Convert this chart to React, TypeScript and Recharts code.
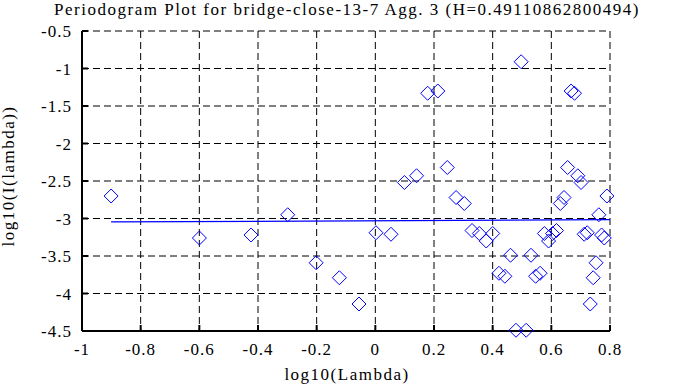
import React from 'react';
import { ScatterChart, Scatter, XAxis, YAxis, CartesianGrid } from 'recharts';

const lambdaLog = [
  -0.9008, -0.5998, -0.4237, -0.2987, -0.2018, -0.1226, -0.0557, 0.0023, 0.0534, 0.0992,
  0.1406, 0.1784, 0.2131, 0.2453, 0.2753, 0.3033, 0.3296, 0.3545, 0.378, 0.4002,
  0.4214, 0.4416, 0.4609, 0.4794, 0.4971, 0.5142, 0.5306, 0.5464, 0.5616, 0.5763,
  0.5906, 0.6043, 0.6177, 0.6307, 0.6433, 0.6555, 0.6674, 0.679, 0.6903, 0.7013,
  0.712, 0.7224, 0.7327, 0.7427, 0.7524, 0.762, 0.7713, 0.7804, 0.7894,
];

const periodogramLog = [
  -2.7, -3.26, -3.22, -2.95, -3.59, -3.79, -4.14, -3.19, -3.21, -2.52,
  -2.43, -1.33, -1.3, -2.32, -2.72, -2.8, -3.16, -3.2, -3.3, -3.2,
  -3.73, -3.77, -3.49, -4.49, -0.91, -4.49, -3.49, -3.77, -3.73, -3.2,
  -3.3, -3.2, -3.16, -2.8, -2.72, -2.32, -1.3, -1.33, -2.43, -2.52,
  -3.21, -3.19, -4.14, -3.79, -3.59, -2.95, -3.22, -3.26, -2.7,
];

const fitX = [-0.9008, 0.8];
const fitY = [-3.046, -3.016];

const xTicks = [-1, -0.8, -0.6, -0.4, -0.2, 0, 0.2, 0.4, 0.6, 0.8];
const yTicks = [-4.5, -4, -3.5, -3, -2.5, -2, -1.5, -1, -0.5];

const titleText = 'Periodogram Plot for bridge-close-13-7 Agg. 3 (H=0.49110862800494)';
const xLabel = 'log10(Lambda)';
const yLabel = 'log10(I(lambda))';

const points = lambdaLog.map((x, i) => ({ x, y: periodogramLog[i] }));
const fitLine = fitX.map((x, i) => ({ x, y: fitY[i] }));

const FONT = '"Liberation Serif", "Times New Roman", Times, serif';
const BLUE = '#0000ff';

const Diamond = (props: any) => {
  const { cx, cy } = props;
  if (cx == null || cy == null) return <g />;
  const r = 7;
  return (
    <path
      d={`M${cx},${cy - r}L${cx + r},${cy}L${cx},${cy + r}L${cx - r},${cy}Z`}
      fill="none"
      stroke={BLUE}
      strokeWidth={1}
    />
  );
};

const NoShape = () => <g />;
const NoTick = () => <g />;

const tickStyle = { fill: '#000', fontSize: 17, fontFamily: FONT, letterSpacing: 1 };
const lineStyle = { stroke: '#000', strokeWidth: 2 };

export default function App() {
  return (
    <div style={{ position: 'absolute', left: 0, top: 0, width: 683, height: 387, background: '#fff' }}>
      <ScatterChart width={683} height={387} margin={{ top: 31, right: 73, bottom: 16, left: 0 }}>
        <CartesianGrid stroke="#000" strokeWidth={1} strokeDasharray="7 4" />
        <XAxis
          xAxisId={0}
          type="number"
          dataKey="x"
          domain={[-1, 0.8]}
          ticks={xTicks}
          interval={0}
          height={40}
          tickSize={-6}
          tickMargin={18}
          tick={tickStyle}
          axisLine={lineStyle}
          tickLine={lineStyle}
        />
        <XAxis
          xAxisId="top"
          orientation="top"
          type="number"
          domain={[-1, 0.8]}
          ticks={xTicks}
          interval={0}
          height={0}
          tickSize={-6}
          tick={NoTick}
          axisLine={lineStyle}
          tickLine={lineStyle}
        />
        <YAxis
          yAxisId={0}
          type="number"
          dataKey="y"
          domain={[-4.5, -0.5]}
          ticks={yTicks}
          interval={0}
          width={82}
          tickSize={-6}
          tickMargin={16}
          tick={tickStyle}
          axisLine={lineStyle}
          tickLine={lineStyle}
        />
        <YAxis
          yAxisId="right"
          orientation="right"
          type="number"
          domain={[-4.5, -0.5]}
          ticks={yTicks}
          interval={0}
          width={0}
          tickSize={-6}
          tick={NoTick}
          axisLine={lineStyle}
          tickLine={lineStyle}
        />
        <Scatter
          data={fitLine}
          line={{ stroke: BLUE, strokeWidth: 1.2 }}
          shape={NoShape}
          isAnimationActive={false}
        />
        <Scatter data={points} shape={Diamond} isAnimationActive={false} />
      </ScatterChart>
      <svg
        width={683}
        height={387}
        style={{ position: 'absolute', left: 0, top: 0, pointerEvents: 'none' }}
      >
        <text x={347} y={14.5} textAnchor="middle" fontSize={17} fontFamily={FONT} letterSpacing={1.5} fill="#000">
          {titleText}
        </text>
        <text x={347} y={380} textAnchor="middle" fontSize={17} fontFamily={FONT} letterSpacing={1.5} fill="#000">
          {xLabel}
        </text>
        <text
          transform="translate(13.5,176) rotate(-90)"
          textAnchor="middle"
          fontSize={17}
          fontFamily={FONT}
          letterSpacing={1.5}
          fill="#000"
        >
          {yLabel}
        </text>
      </svg>
    </div>
  );
}
